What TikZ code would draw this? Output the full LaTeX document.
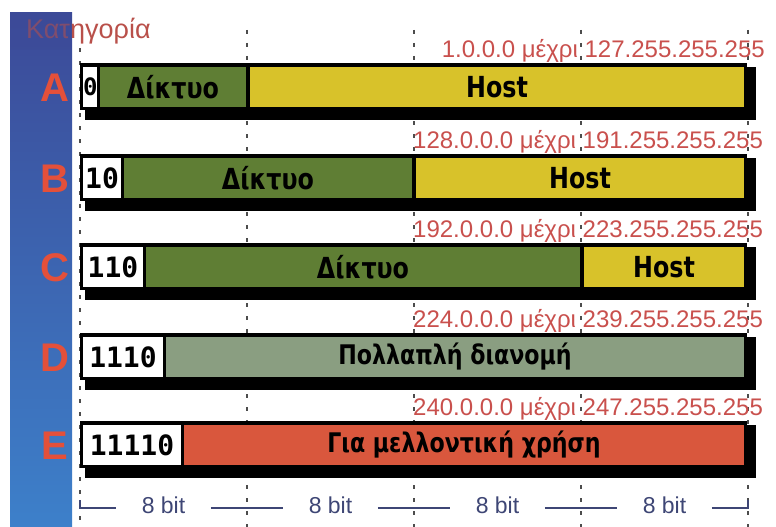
\documentclass[tikz,border=0pt]{standalone}
\usepackage{fontspec}
\setmainfont{Liberation Sans}
\newfontfamily\barfont{DejaVu Sans}[FakeStretch=0.82]
\newfontfamily\bitsfont{DejaVu Sans Mono}

\definecolor{netgreen}{HTML}{5F7E34}
\definecolor{hostyellow}{HTML}{D8C22A}
\definecolor{multigray}{HTML}{8A9E81}
\definecolor{futurered}{HTML}{D9573D}
\definecolor{rangered}{HTML}{C9504D}
\definecolor{classred}{HTML}{E4503A}
\definecolor{titlered}{HTML}{B9504A}
\definecolor{bandtop}{HTML}{3C4A98}
\definecolor{bandbot}{HTML}{3D80CA}
\definecolor{bitblue}{HTML}{3E4675}

\tikzset{
  fieldbox/.style={anchor=west, inner sep=0pt, outer sep=0pt, minimum height=40pt,
    font=\barfont\bfseries\fontsize{29}{29}\selectfont},
  longfield/.style={fieldbox, font=\barfont\bfseries\fontsize{27}{27}\selectfont},
  bitbox/.style={fieldbox, fill=white, font=\bitsfont\bfseries\fontsize{28}{28}\selectfont},
  rangelabel/.style={inner sep=0pt, text=rangered, font=\fontsize{24}{24}\selectfont},
  classletter/.style={text=classred, font=\bfseries\fontsize{40}{40}\selectfont},
  octetline/.style={draw=black!70, line width=1.6pt, dash pattern=on 4pt off 9pt},
  bitlabel/.style={text=bitblue, font=\fontsize{23}{23}\selectfont},
  scaleline/.style={draw=bitblue, line width=1.8pt},
  shellfill/.style={fill=black}
}

\begin{document}
\begin{tikzpicture}[x=1pt, y=-1pt]
  \useasboundingbox (0,0) rectangle (776,527);
  \fill[white] (0,0) rectangle (776,527);

  % left band with the class letters
  \shade[top color=bandtop, bottom color=bandbot] (10,13) rectangle (72,527);

  % octet boundaries
  \foreach \gx/\gy in {80/48, 247/30, 414/30, 581/30, 748/30}
    \draw[octetline] (\gx,\gy) -- (\gx,527);

  % black frames with drop shadow, one per class
  \foreach \c in {88, 179, 268, 358, 446} {
    \fill[shellfill] (85,\c-21) rectangle (756,\c+32);
    \fill[shellfill] (80,\c-25) rectangle (747,\c+22);
  }

  % class A
  \node[bitbox, minimum width=14pt, font=\bitsfont\bfseries\fontsize{24}{24}\selectfont] (a0) at (83,87) {0};
  \node[fieldbox, fill=netgreen, minimum width=146pt] (anet) at (100,87) {Δίκτυο};
  \node[fieldbox, fill=hostyellow, minimum width=494pt] (ahost) at (250,87) {Host};
  % class B
  \node[bitbox, minimum width=38pt] (b0) at (83,178) {10};
  \node[fieldbox, fill=netgreen, minimum width=288pt] (bnet) at (124,178) {Δίκτυο};
  \node[fieldbox, fill=hostyellow, minimum width=328pt] (bhost) at (416,178) {Host};
  % class C
  \node[bitbox, minimum width=60pt] (c0) at (83,267) {110};
  \node[fieldbox, fill=netgreen, minimum width=434pt] (cnet) at (146,267) {Δίκτυο};
  \node[fieldbox, fill=hostyellow, minimum width=160pt] (chost) at (584,267) {Host};
  % class D
  \node[bitbox, minimum width=80pt] (d0) at (83,357) {1110};
  \node[longfield, fill=multigray, minimum width=578pt] (dmulti) at (166,357) {Πολλαπλή διανομή};
  % class E
  \node[bitbox, minimum width=98pt] (e0) at (83,445) {11110};
  \node[longfield, fill=futurered, minimum width=560pt] (efuture) at (184,445) {Για μελλοντική χρήση};

  % address ranges
  \node[rangelabel, anchor=base east] (ra) at (765,57)  {1.0.0.0 μέχρι 127.255.255.255};
  \node[rangelabel, anchor=base west] (rb) at (413,148) {128.0.0.0 μέχρι 191.255.255.255};
  \node[rangelabel, anchor=base west] (rc) at (413,237) {192.0.0.0 μέχρι 223.255.255.255};
  \node[rangelabel, anchor=base west] (rd) at (413,327) {224.0.0.0 μέχρι 239.255.255.255};
  \node[rangelabel, anchor=base west] (re) at (413,415) {240.0.0.0 μέχρι 247.255.255.255};

  % class letters
  \node[classletter] (la) at (55,88)  {A};
  \node[classletter] (lb) at (55,179) {B};
  \node[classletter] (lc) at (55,268) {C};
  \node[classletter] (ld) at (55,358) {D};
  \node[classletter] (le) at (55,446) {E};

  % heading, partly under the band
  \node[anchor=base west, inner sep=0pt, text=titlered, font=\fontsize{27}{27}\selectfont] (title) at (26,38) {Κατηγορία};
  \fill[bandtop, opacity=0.45] (10,13) rectangle (72,50);

  % octet scale
  \node[bitlabel] (b1) at (163.5,505) {8 bit};
  \node[bitlabel] (b2) at (330.5,505) {8 bit};
  \node[bitlabel] (b3) at (497.5,505) {8 bit};
  \node[bitlabel] (b4) at (664.5,505) {8 bit};
  \coordinate (sL) at (80,508);
  \coordinate (sR) at (748,508);
  \draw[scaleline] ([yshift=8pt]sL) -- (sL) -- ([xshift=-22pt]b1.west |- sL);
  \draw[scaleline] ([xshift=22pt]b1.east |- sL) -- ([xshift=-22pt]b2.west |- sL);
  \draw[scaleline] ([xshift=22pt]b2.east |- sL) -- ([xshift=-22pt]b3.west |- sL);
  \draw[scaleline] ([xshift=22pt]b3.east |- sL) -- ([xshift=-22pt]b4.west |- sL);
  \draw[scaleline] ([xshift=22pt]b4.east |- sL) -- (sR) -- ([yshift=8pt]sR);
\end{tikzpicture}
\end{document}
